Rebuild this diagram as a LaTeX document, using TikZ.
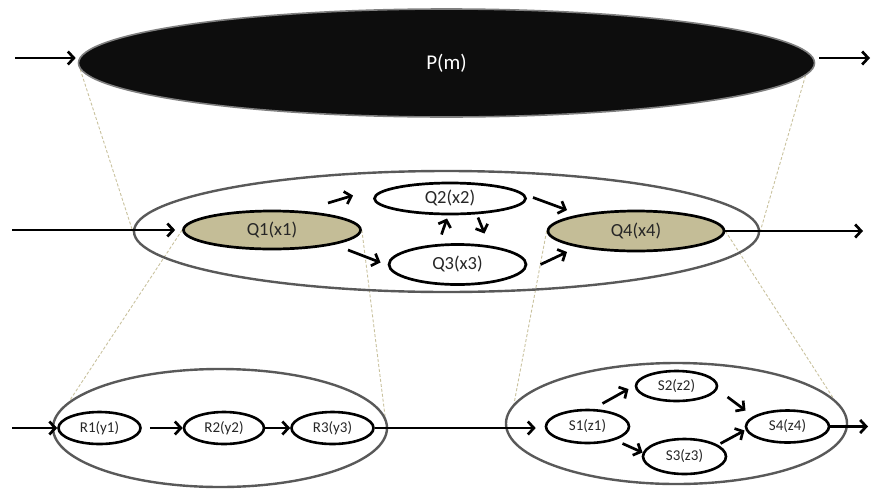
\documentclass[tikz,border=0pt]{standalone}
\usepackage{fontspec}
\setmainfont{Carlito}
\usetikzlibrary{arrows.meta,calc,shapes.geometric}
\pgfdeclarelayer{bg}
\pgfsetlayers{bg,main}
\definecolor{pblack}{HTML}{0D0D0D}
\definecolor{pedge}{HTML}{7F7F7F}
\definecolor{grpgray}{HTML}{595959}
\definecolor{qtan}{HTML}{C4BD97}
\definecolor{projtan}{HTML}{C9C29E}
\begin{document}
\begin{tikzpicture}[x=1pt,y=-1pt,
  pnode/.style={ellipse, inner sep=0pt, fill=pblack, draw=pedge, line width=1.6pt,
    text=white, font=\fontsize{21}{24}\selectfont},
  group/.style={ellipse, inner sep=0pt, draw=grpgray, line width=2.4pt},
  qnode/.style={ellipse, inner sep=0pt, draw=black, line width=2.7pt, fill=white,
    text=black!85, font=\fontsize{18.5}{21}\selectfont},
  snode/.style={ellipse, inner sep=0pt, draw=black, line width=2.6pt, fill=white,
    text=black!85, font=\fontsize{15}{17}\selectfont},
  arr/.style={line width=2.7pt, -{Straight Barb[length=6pt,width=13pt]}},
  proj/.style={draw=projtan, line width=0.9pt, dash pattern=on 3pt off 2pt}]
\useasboundingbox (0,0) rectangle (874,490);

% top level process
\node[pnode, minimum width=736pt, minimum height=108pt] (P) at (446.5,63) {P(m)};

% second level
\node[group, minimum width=625pt, minimum height=121pt] (M) at (446.5,231.5) {};
\node[qnode, fill=qtan, minimum width=177pt, minimum height=38pt] (Q1) at (272,230) {Q1(x1)};
\node[qnode, minimum width=151pt, minimum height=31pt] (Q2) at (450,198.5) {Q2(x2)};
\node[qnode, minimum width=137pt, minimum height=40pt] (Q3) at (457.5,264.5) {Q3(x3)};
\node[qnode, fill=qtan, minimum width=176pt, minimum height=40pt] (Q4) at (636,231) {Q4(x4)};

% third level
\node[group, minimum width=334pt, minimum height=118pt] (Rbox) at (220,428) {};
\node[snode, minimum width=82pt, minimum height=32pt] (R1) at (99.5,428) {R1(y1)};
\node[snode, minimum width=80pt, minimum height=32pt] (R2) at (224,428) {R2(y2)};
\node[snode, minimum width=82pt, minimum height=32pt] (R3) at (332.5,428) {R3(y3)};

\node[group, minimum width=341pt, minimum height=121pt] (Sbox) at (676.5,423.5) {};
\node[snode, minimum width=83pt, minimum height=33pt] (S1) at (587.5,426.5) {S1(z1)};
\node[snode, minimum width=81pt, minimum height=30pt] (S2) at (676.5,386) {S2(z2)};
\node[snode, minimum width=83pt, minimum height=35pt] (S3) at (684.5,456.5) {S3(z3)};
\node[snode, minimum width=83pt, minimum height=32pt] (S4) at (787.5,426.5) {S4(z4)};

% projection lines between levels
\begin{pgfonlayer}{bg}
\draw[proj] (P.181) -- (M.west);
\draw[proj] (P.-2) -- (M.east);
\draw[proj] (Q1.west) -- (Rbox.170);
\draw[proj] (Q1.east) -- (Rbox.4);
\draw[proj] (Q4.west) -- (Sbox.173);
\draw[proj] (Q4.east) -- (Sbox.9);
\end{pgfonlayer}

% inputs and outputs
\coordinate (inP) at (15,58);
\coordinate (outP) at (870,58);
\coordinate (inM) at (12,230);
\coordinate (outM) at (863,231);
\coordinate (inR) at (12,428);
\coordinate (outS) at (868,426.5);

\draw[arr, shorten >=2pt] (inP) -- (inP -| P.west);
\draw[arr, shorten <=4pt] (outP -| P.east) -- (outP);

\draw[arr, shorten >=7pt] (inM) -- (Q1.west);
\draw[arr] ($(Q1.center)+(56,-27)$) -- ($(Q2.center)+(-97,-3)$);
\draw[arr] ($(Q1.center)+(76,20)$) -- ($(Q3.center)+(-77,-2)$);
\draw[arr] ($(Q3.center)+(-16,-30)$) -- ($(Q2.center)+(-3,20)$);
\draw[arr] ($(Q2.center)+(28,19)$) -- ($(Q3.center)+(27,-31)$);
\draw[arr] ($(Q2.center)+(83,-1)$) -- ($(Q4.center)+(-69,-21)$);
\draw[arr] ($(Q3.center)+(83,0)$) -- ($(Q4.center)+(-69,21)$);
\draw[arr] (Q4.east) -- (outM);

\draw[arr] (inR) -- (R1.west);
\draw[arr, shorten <=8pt] (R1.east) -- (R2.west);
\draw[arr] (R2.east) -- (R3.west);
\draw[arr, shorten >=9pt] (R3.east) -- (R3.east -| S1.west);

\draw[arr] ($(S1.center)+(15,-23)$) -- ($(S2.center)+(-48,3)$);
\draw[arr] ($(S1.center)+(35,17)$) -- ($(S3.center)+(-42,-4)$);
\draw[arr] ($(S2.center)+(51,11)$) -- ($(S4.center)+(-42,-16)$);
\draw[arr] ($(S3.center)+(36,-13)$) -- ($(S4.center)+(-43,4)$);
\draw[arr] (S4.east) -- (outS);
\end{tikzpicture}
\end{document}
